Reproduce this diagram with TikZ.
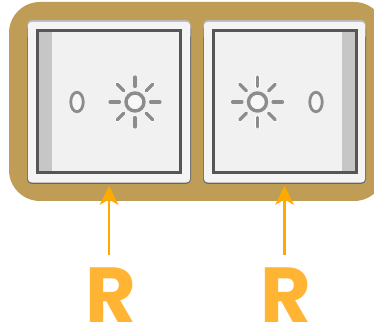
\documentclass[tikz,border=0pt]{standalone}
\usepackage{fontspec}
\setmainfont{Poppins}
\usetikzlibrary{shapes.geometric}
\definecolor{plate}{HTML}{BF9D56}
\definecolor{arrowc}{HTML}{FFAA00}
\definecolor{letter}{HTML}{FFB433}
\definecolor{glyph}{HTML}{8C8C8C}
\definecolor{barc}{HTML}{C6C6C6}
\definecolor{framec}{HTML}{565656}
\definecolor{frameinner}{HTML}{9A9A9A}
\definecolor{facec}{HTML}{F1F1F1}
\definecolor{rimc}{HTML}{F4F4F4}
\tikzset{
  platebox/.style={fill=plate,rounded corners=31pt},
  keyshadow/.style={fill=black!60,rounded corners=5pt},
  keytop/.style={fill=black!28,rounded corners=4pt},
  keybody/.style={fill=rimc,rounded corners=4pt},
  keyframe/.style={draw=framec,line width=3pt},
  keyinner/.style={draw=frameinner,line width=1pt,fill=facec},
  barfill/.style={fill=barc},
  ray/.style={draw=glyph,line width=3.2pt,line cap=round},
  halo/.style={draw=white,line width=4.4pt,line cap=round},
  sunring/.style={circle,draw=glyph,line width=3.4pt,fill=white!97!black,minimum size=18pt,inner sep=0pt},
  ovalring/.style={ellipse,draw=glyph,line width=2.8pt,fill=white!97!black,minimum width=12.5pt,minimum height=19.5pt,inner sep=0pt},
  pointer/.style={draw=arrowc,line width=2.4pt},
  pointerhead/.style={fill=arrowc},
  letternode/.style={text=letter,font=\fontsize{78}{78}\selectfont\bfseries,inner sep=0pt,anchor=base}
}
\newcommand{\sunrays}[2]{%
  \foreach \a in {0,45,...,315}{
    \draw[halo] ([shift={(\a:15.5)}]#1,#2) -- ([shift={(\a:25)}]#1,#2);
    \draw[ray] ([shift={(\a:15.5)}]#1,#2) -- ([shift={(\a:25)}]#1,#2);
  }}
\begin{document}
\begin{tikzpicture}[x=1pt,y=-1pt]
\useasboundingbox (0,0) rectangle (374,328);
\fill[white] (0,0) rectangle (374,328);
\begin{scope}
\clip (0,0) rectangle (374,328);
\path[platebox] (9,2) rectangle (385,201);
\end{scope}
% left key
\path[keyshadow] (27,24) rectangle (191,184);
\path[keytop] (27.5,20) rectangle (190.5,40);
\path[keybody] (27.8,21.8) rectangle (190.2,182.6);
\path[keyinner] (38.5,31.5) rectangle (179.5,171.5);
\path[barfill] (39,32) rectangle (52,171);
\path[keyframe] (37.5,30.5) rectangle (180.5,172.5);
\sunrays{135}{102}
\node[sunring] (sunA) at (135,102) {};
\node[ovalring] (ovalA) at (77,102) {};
% right key
\path[keyshadow] (203,24) rectangle (366,184);
\path[keytop] (203.5,20) rectangle (365.5,40);
\path[keybody] (203.8,21.8) rectangle (365.2,182.6);
\path[keyinner] (214.5,31.5) rectangle (355,171.5);
\path[barfill] (342,32) rectangle (355,171);
\path[keyframe] (213.5,30.5) rectangle (356,172.5);
\sunrays{257.5}{102}
\node[sunring] (sunB) at (257.5,102) {};
\node[ovalring] (ovalB) at (316,102) {};
% labels and arrows
\node[letternode] (rA) at (110.5,322) {R};
\node[letternode] (rB) at (286,322) {R};
\coordinate (tipA) at (109,186);
\coordinate (tipB) at (284.5,186);
\coordinate (tailA) at (109,255);
\coordinate (tailB) at (284.5,255);
\draw[pointer] (tailA) -- (109,200);
\draw[pointer] (tailB) -- (284.5,200);
\fill[pointerhead] (tipA) -- (118.5,205) -- (109,199.5) -- (99.5,205) -- cycle;
\fill[pointerhead] (tipB) -- (294,205) -- (284.5,199.5) -- (275,205) -- cycle;
\end{tikzpicture}
\end{document}
